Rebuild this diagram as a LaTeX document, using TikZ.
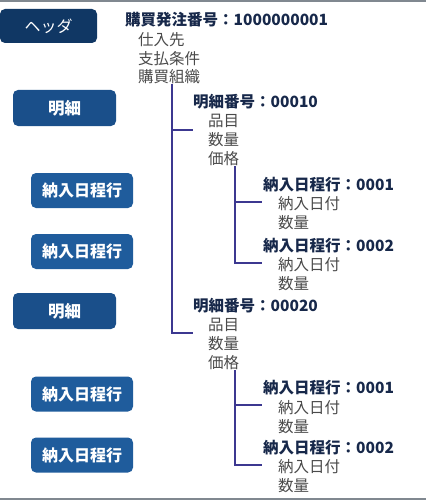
\documentclass[tikz,border=0pt]{standalone}
\usepackage{fontspec}
\setmainfont{Noto Sans CJK JP}
\definecolor{hdrblue}{HTML}{103764}
\definecolor{dtlblue}{HTML}{1A4F8A}
\definecolor{schblue}{HTML}{1F5C9C}
\definecolor{titlenavy}{HTML}{17284A}
\definecolor{itemgray}{HTML}{4A4A4A}
\definecolor{treeline}{HTML}{3C3890}
\definecolor{rulegray}{HTML}{808890}
\tikzset{
  box/.style={rounded corners=5pt, text=white, font=\fontsize{16}{18}\selectfont, inner sep=0pt},
  hdrbox/.style={box, fill=hdrblue, minimum width=97pt, minimum height=34pt},
  dtlbox/.style={box, fill=dtlblue, minimum width=103pt, minimum height=36pt, font=\fontsize{16.5}{18}\selectfont\bfseries},
  schbox/.style={box, fill=schblue, minimum width=102pt, minimum height=35pt, font=\fontsize{16}{18}\selectfont\bfseries},
  title/.style={anchor=west, inner sep=0pt, text=titlenavy, font=\fontsize{15.5}{18}\selectfont\bfseries},
  item/.style={anchor=west, inner sep=0pt, text=itemgray, font=\fontsize{15.5}{18}\selectfont},
  tree/.style={treeline, line width=1.4pt}
}
\begin{document}
\begin{tikzpicture}[x=1pt,y=-1pt]
  \useasboundingbox (0,0) rectangle (426,500);
  \draw[rulegray, line width=2.5pt] (0,1.2) -- (426,1.2);
  \draw[rulegray, line width=2.5pt] (0,498.8) -- (426,498.8);
  % left column
  \node[hdrbox] (H) at (48.5,26) {ヘッダ};
  \node[dtlbox] (D1) at (64.5,108) {明細};
  \node[schbox] (S11) at (82,190.5) {納入日程行};
  \node[schbox] (S12) at (82,251.5) {納入日程行};
  \node[dtlbox] (D2) at (64.5,311) {明細};
  \node[schbox] (S21) at (82,394) {納入日程行};
  \node[schbox] (S22) at (82,455) {納入日程行};
  % header
  \node[title] (PO) at (125,20) {購買発注番号：1000000001};
  \node[item] (Vend) at (138,40) {仕入先};
  \node[item] (Term) at (138,58.5) {支払条件};
  \node[item] (Org) at (138,77) {購買組織};
  % detail 00010
  \node[title] (T1) at (193,102) {明細番号：00010};
  \node[item] (Mat1) at (208,121) {品目};
  \node[item] (Qty1) at (208,140) {数量};
  \node[item] (Prc1) at (208,159) {価格};
  \node[title] (N11) at (263,185) {納入日程行：0001};
  \node[item] (Dat11) at (278,204) {納入日付};
  \node[item] (Q11) at (278,223) {数量};
  \node[title] (N12) at (263,246) {納入日程行：0002};
  \node[item] (Dat12) at (278,265) {納入日付};
  \node[item] (Q12) at (278,284) {数量};
  % detail 00020
  \node[title] (T2) at (193,306) {明細番号：00020};
  \node[item] (Mat2) at (208,325) {品目};
  \node[item] (Qty2) at (208,344) {数量};
  \node[item] (Prc2) at (208,363) {価格};
  \node[title] (N21) at (263,388) {納入日程行：0001};
  \node[item] (Dat21) at (278,408) {納入日付};
  \node[item] (Q21) at (278,427) {数量};
  \node[title] (N22) at (263,448) {納入日程行：0002};
  \node[item] (Dat22) at (278,467) {納入日付};
  \node[item] (Q22) at (278,486) {数量};
  % branch ends
  \coordinate (B1) at (193,130);
  \coordinate (B2) at (193,333);
  \coordinate (B11) at (262,202);
  \coordinate (B12) at (262,263);
  \coordinate (B21) at (262,405);
  \coordinate (B22) at (262,465);
  \draw[tree] (Org.south -| 172,0) |- (B1);
  \draw[tree] (Org.south -| 172,0) |- (B2);
  \draw[tree] (Prc1.south -| 235,0) |- (B11);
  \draw[tree] (Prc1.south -| 235,0) |- (B12);
  \draw[tree] (Prc2.south -| 235,0) |- (B21);
  \draw[tree] (Prc2.south -| 235,0) |- (B22);
\end{tikzpicture}
\end{document}
